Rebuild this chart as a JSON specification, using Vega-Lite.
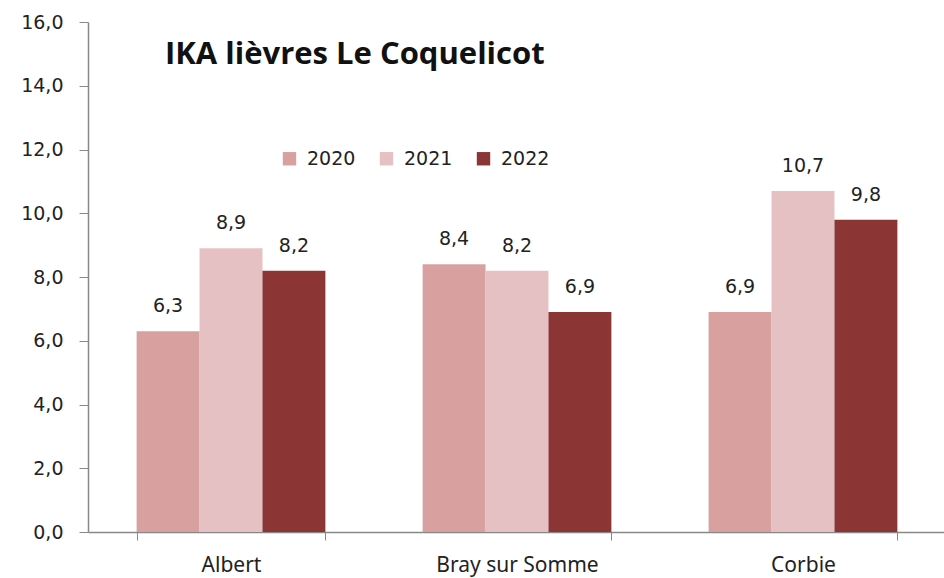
{
  "$schema": "https://vega.github.io/schema/vega-lite/v6.json",
  "autosize": {"type": "none"},
  "padding": {"left": 88, "top": 22, "right": 0, "bottom": 46},
  "width": 858,
  "height": 510,
  "background": "white",
  "config": {
    "locale": {"number": {"decimal": ",", "thousands": " ", "grouping": [3], "currency": ["", " €"]}},
    "view": {"stroke": null},
    "font": "DejaVu Sans"
  },
  "title": {
    "text": "IKA lièvres Le Coquelicot",
    "anchor": "start",
    "frame": "group",
    "orient": "top",
    "offset": 0,
    "baseline": "alphabetic",
    "dx": 77,
    "dy": 82,
    "fontSize": 31,
    "fontWeight": "bold",
    "font": "Open Sans",
    "color": "#111111"
  },
  "data": {
    "values": [
      {"site": "Albert", "annee": "2020", "ika": 6.3},
      {"site": "Albert", "annee": "2021", "ika": 8.9},
      {"site": "Albert", "annee": "2022", "ika": 8.2},
      {"site": "Bray sur Somme", "annee": "2020", "ika": 8.4},
      {"site": "Bray sur Somme", "annee": "2021", "ika": 8.2},
      {"site": "Bray sur Somme", "annee": "2022", "ika": 6.9},
      {"site": "Corbie", "annee": "2020", "ika": 6.9},
      {"site": "Corbie", "annee": "2021", "ika": 10.7},
      {"site": "Corbie", "annee": "2022", "ika": 9.8}
    ]
  },
  "encoding": {
    "x": {
      "field": "site",
      "type": "nominal",
      "sort": null,
      "scale": {"paddingInner": 0.34, "paddingOuter": 0.17},
      "axis": {
        "title": null,
        "labelAngle": 0,
        "labelFont": "Noto Sans",
        "labelFontSize": 21,
        "labelColor": "#222222",
        "labelPadding": 14,
        "tickBand": "extent",
        "tickSize": 8,
        "tickColor": "#888888",
        "domainColor": "#888888",
        "domainWidth": 1.5
      }
    },
    "xOffset": {"field": "annee", "type": "nominal", "scale": {"paddingInner": 0, "paddingOuter": 0}},
    "y": {
      "field": "ika",
      "type": "quantitative",
      "scale": {"domain": [0, 16], "nice": false},
      "axis": {
        "title": null,
        "values": [0, 2, 4, 6, 8, 10, 12, 14, 16],
        "format": ".1f",
        "grid": false,
        "labelFontSize": 19,
        "labelColor": "#222222",
        "labelPadding": 16,
        "tickSize": 9,
        "tickColor": "#888888",
        "domainColor": "#888888",
        "domainWidth": 1.5
      }
    }
  },
  "layer": [
    {
      "mark": {"type": "bar"},
      "encoding": {
        "color": {
          "field": "annee",
          "type": "nominal",
          "scale": {"domain": ["2020", "2021", "2022"], "range": ["#D9A0A0", "#E6C1C3", "#8B3535"]},
          "legend": {
            "title": null,
            "orient": "none",
            "direction": "horizontal",
            "columns": 3,
            "legendX": 192,
            "legendY": 127,
            "symbolType": "square",
            "symbolSize": 180,
            "symbolStrokeWidth": 0,
            "labelFontSize": 19,
            "labelColor": "#222222",
            "labelOffset": 8,
            "columnPadding": 21
          }
        }
      }
    },
    {
      "mark": {"type": "text", "baseline": "alphabetic", "dy": -19, "fontSize": 19, "color": "#222222"},
      "encoding": {
        "text": {"field": "ika", "type": "quantitative", "format": ".1f"}
      }
    }
  ]
}
